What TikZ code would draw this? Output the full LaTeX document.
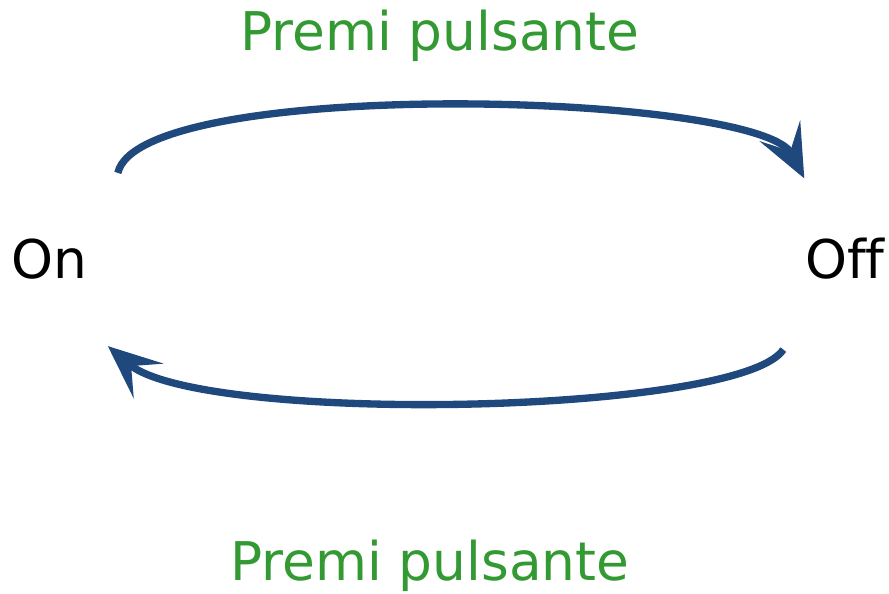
\documentclass[tikz,border=0pt]{standalone}
\usepackage{fontspec}
\setmainfont{DejaVu Sans}[Ligatures=NoCommon]
\usepackage{tikz}
\usetikzlibrary{positioning}
\usetikzlibrary{arrows.meta}
\definecolor{arcblue}{RGB}{31,73,125}
\definecolor{labelgreen}{RGB}{51,153,51}
\tikzset{my_switch/.style={x=0.75pt,y=-0.75pt,font=\fontsize{40}{48}\selectfont}}
\tikzset{my_state/.style={inner sep=2pt,text=black}}
\tikzset{my_label/.style={inner sep=1pt,text=labelgreen}}
\tikzset{my_arc/.style={draw=arcblue,line width=5.5pt,-{Stealth[length=40pt,width=34pt,inset=17pt]}}}

\begin{document}
\begin{tikzpicture}[my_switch]
    \useasboundingbox (0,0) rectangle (889,593);
    %\draw[help lines] (0,0) grid (889,593);
    \node[my_state] (on) at (49,259) {On};
    \node[my_state] (off) at (845,259) {Off};
    \node[my_label] (press_top) at (440,36) {Premi pulsante};
    \node[my_label] (press_bottom) at (430,566) {Premi pulsante};

    \draw[my_arc] ([shift={(28,-63)}]on.north east)
        .. controls (140,76) and (760,92) .. ([shift={(2,-57)}]off.north west);
    \draw[my_arc] ([shift={(-19,67)}]off.south west)
        .. controls (740,415) and (200,425) .. ([shift={(18,64)}]on.south east);
\end{tikzpicture}
\end{document}
